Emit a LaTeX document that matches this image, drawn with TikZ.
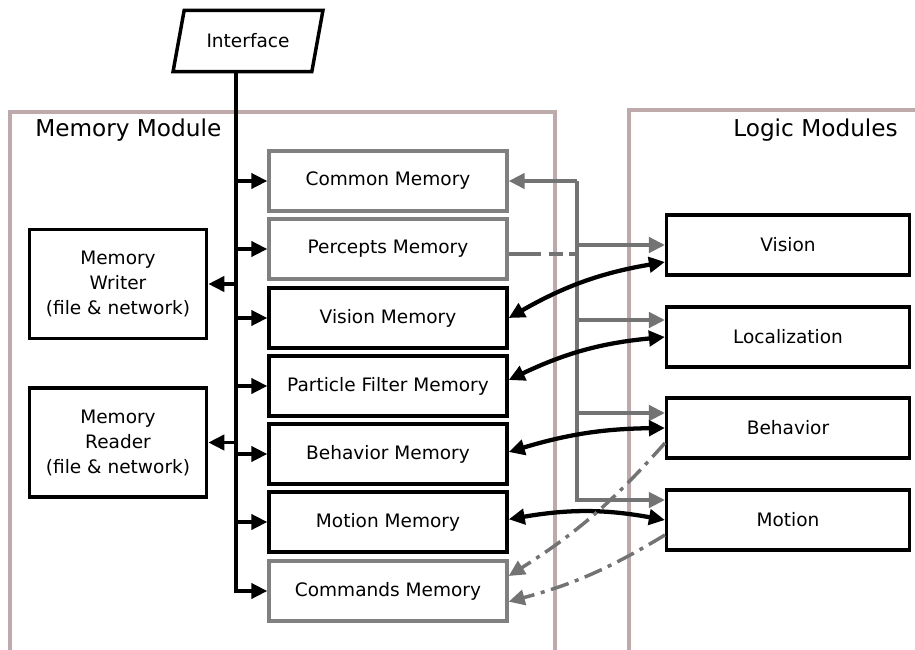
\documentclass[tikz,border=0pt]{standalone}
\usepackage{fontspec}
\setmainfont{DejaVu Sans}
\usetikzlibrary{arrows.meta,shapes.geometric}
\definecolor{framecol}{RGB}{190,170,170}
\definecolor{boxgray}{RGB}{128,128,128}
\definecolor{wiregray}{RGB}{115,115,115}
\begin{document}
\begin{tikzpicture}[x=0.75pt,y=-0.75pt,>={Triangle[length=12pt,width=11.5pt]},
  every node/.style={font=\fontsize{13.9}{18.75}\selectfont},
  membox/.style={draw,line width=2.6pt,minimum width=178.5pt,minimum height=45pt,inner sep=0pt},
  graymem/.style={membox,draw=boxgray},
  logicbox/.style={membox,minimum width=182pt},
  iobox/.style={draw,line width=2.6pt,minimum width=133pt,minimum height=82pt,inner sep=0pt,align=center},
  frame/.style={draw=framecol,line width=2.6pt},
  framelabel/.style={font=\fontsize{17.4}{20}\selectfont,inner sep=0pt},
  bus/.style={line width=2.4pt},
  feed/.style={draw=wiregray,line width=2.6pt,color=wiregray},
  link/.style={line width=3.2pt,<->},
  cmd/.style={feed,dash pattern=on 14pt off 5pt on 3pt off 5pt}]
  \useasboundingbox (0,0) rectangle (915,650);
  % frames
  \draw[frame] (10,650) -- (10,112) -- (555,112) -- (555,650);
  \draw[frame] (915,110) -- (629,110) -- (629,650);
  \node[framelabel,anchor=west] (memlabel) at (35,130) {Memory Module};
  \node[framelabel,anchor=east] (logiclabel) at (898,130) {Logic Modules};
  % interface
  \node[draw,line width=2.6pt,trapezium,trapezium left angle=71,trapezium right angle=109,
        trapezium stretches=true,minimum width=113pt,minimum height=46pt] (iface) at (248,41) {Interface};
  % memory module
  \node[graymem] (common) at (388,181) {Common Memory};
  \node[graymem] (percepts) at (388,249) {Percepts Memory};
  \node[membox] (visionmem) at (388,318) {Vision Memory};
  \node[membox] (pfmem) at (388,386) {Particle Filter Memory};
  \node[membox] (behavmem) at (388,454) {Behavior Memory};
  \node[membox] (motionmem) at (388,522) {Motion Memory};
  \node[graymem] (cmdmem) at (388,591) {Commands Memory};
  \node[iobox] (writer) at (118,284) {Memory\\Writer\\(file \& network)};
  \node[iobox] (reader) at (118,442.5) {Memory\\Reader\\(file \& network)};
  % logic modules
  \node[logicbox] (vision) at (788,245) {Vision};
  \node[logicbox] (loc) at (788,337) {Localization};
  \node[logicbox] (behavior) at (788,428) {Behavior};
  \node[logicbox] (motion) at (788,520) {Motion};
  % bus from the interface
  \coordinate (bus) at (236,73);
  \draw[bus,->] (bus |- iface.south) |- (cmdmem.west);
  \foreach \m in {common,percepts,visionmem,pfmem,behavmem,motionmem}
    \draw[bus,->] (bus |- \m.west) -- (\m.west);
  \draw[bus,->] (bus |- writer.east) -- (writer.east);
  \draw[bus,->] (bus |- reader.east) -- (reader.east);
  % gray feed lines
  \coordinate (feed) at (577,181);
  \draw[feed,->] (feed) -- (common.east);
  \draw[feed,->] (feed) |- ([yshift=15pt]motion.west);
  \draw[feed,->] (feed |- vision.west) -- (vision.west);
  \draw[feed,->] (feed |- 0,320) -- ([yshift=12.75pt]loc.west);
  \draw[feed,->] (feed |- 0,413) -- ([yshift=11.25pt]behavior.west);
  \draw[feed,dash pattern=on 24pt off 6pt on 11pt off 4pt on 7pt]
    ([yshift=-3.75pt]percepts.east) -- ([yshift=-3.75pt]percepts.east -| feed);
  % data links
  \draw[link] (visionmem.east) to[bend left=10] ([yshift=-12.75pt]vision.west);
  \draw[link] ([yshift=4.5pt]pfmem.east) to[bend left=10] (loc.west);
  \draw[link] ([yshift=1.5pt]behavmem.east) to[bend left=8] (behavior.west);
  \draw[link] ([yshift=2pt]motionmem.east) to[bend left=10] (motion.west);
  % commands
  \draw[cmd,->] ([yshift=-11.25pt]behavior.west) to[bend left=8] ([yshift=11.25pt]cmdmem.east);
  \draw[cmd,->] ([yshift=-11.25pt]motion.west) to[bend left=8] ([yshift=-8pt]cmdmem.east);
\end{tikzpicture}
\end{document}
